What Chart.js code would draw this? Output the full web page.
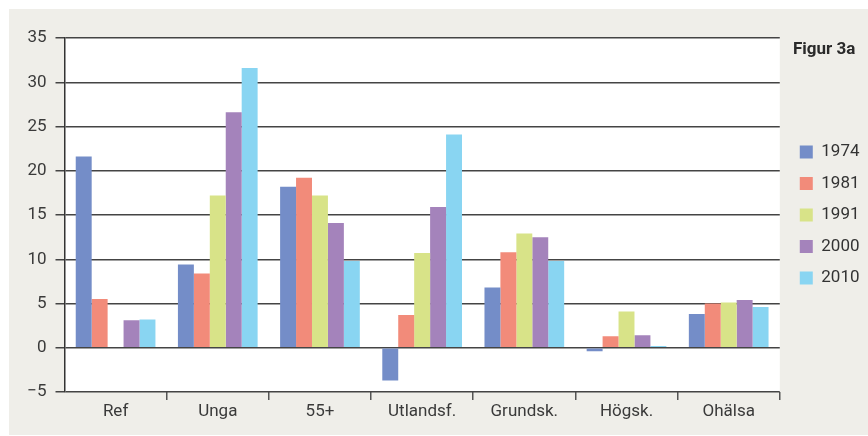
<!DOCTYPE html>
<html lang="sv">
<head>
  <meta charset="UTF-8">
  <title>Figur 3a</title>
  <style>
    body { margin: 0; background: #fff; }
    #wrap { position: absolute; left: 9px; top: 9px; width: 859px; height: 426px; background: #efeee9; }
    #fig { position: absolute; left: 784px; top: 29px; font: bold 17px Roboto, sans-serif; color: #2a2a2a; }
  </style>
</head>
<body>
  <div id="wrap">
    <canvas id="chart" width="859" height="426"></canvas>
    <div id="fig">Figur 3a</div>
  </div>

  <script src="https://cdn.jsdelivr.net/npm/chart.js@4.4.1/dist/chart.umd.min.js"></script>
  <script>
    // kategorier och serier
    const categories = ["Ref", "Unga", "55+", "Utlandsf.", "Grundsk.", "Högsk.", "Ohälsa"];
    const years = ["1974", "1981", "1991", "2000", "2010"];
    const v1974 = [21.6, 9.4, 18.2, -3.7, 6.8, -0.4, 3.8];
    const v1981 = [5.5, 8.4, 19.2, 3.7, 10.8, 1.3, 5.0];
    const v1991 = [null, 17.2, 17.2, 10.7, 12.9, 4.1, 5.1];
    const v2000 = [3.1, 26.6, 14.1, 15.9, 12.5, 1.4, 5.4];
    const v2010 = [3.2, 31.6, 9.8, 24.1, 9.8, 0.2, 4.6];
    const yTicks = [-5, 0, 5, 10, 15, 20, 25, 30, 35];
    const colors = ["#748dc8", "#f28b7a", "#d8e388", "#a483bb", "#89d5f2"];

    const series = [v1974, v1981, v1991, v2000, v2010];
    const font = { family: "Roboto, sans-serif", size: 17 };

    // vit bakgrund bakom själva diagramytan
    const plotBg = {
      id: "plotBg",
      beforeDraw(chart) {
        const { ctx, chartArea: a } = chart;
        ctx.save();
        ctx.fillStyle = "#ffffff";
        ctx.fillRect(a.left, a.top, a.right - a.left, a.bottom - a.top);
        ctx.restore();
      }
    };

    // flytta legenden lite åt höger utan att ändra diagramytan
    const legendNudge = {
      id: "legendNudge",
      afterLayout(chart) {
        chart.legend.left += 5.5;
        chart.legend.right += 5.5;
      }
    };

    new Chart(document.getElementById("chart"), {
      type: "bar",
      data: {
        labels: categories,
        datasets: years.map((y, i) => ({
          label: y,
          data: series[i],
          backgroundColor: colors[i],
          categoryPercentage: 0.78,
          barPercentage: 1
        }))
      },
      options: {
        responsive: false,
        animation: false,
        layout: { padding: { top: 29, right: 4 } },
        plugins: {
          title: { display: false },
          tooltip: { enabled: false },
          legend: {
            position: "right",
            align: "center",
            fullSize: false,
            labels: {
              boxWidth: 13,
              boxHeight: 13,
              padding: 14.5,
              color: "#333",
              font: font
            }
          }
        },
        scales: {
          x: {
            afterFit(axis) { axis.height = 43; },
            grid: {
              offset: true,
              drawOnChartArea: false,
              tickLength: 8,
              lineWidth: 1.5,
              color: ctx => ctx.index === 0 ? "rgba(0,0,0,0)" : "#555"
            },
            border: { display: false },
            ticks: { color: "#3a3a3a", font: font, padding: 2 }
          },
          y: {
            min: -5,
            max: 35,
            afterFit(axis) { axis.width = 55.5; },
            afterBuildTicks(axis) { axis.ticks = yTicks.map(v => ({ value: v })); },
            grid: { color: "#444", lineWidth: 1.5, tickLength: 9 },
            border: { color: "#333", width: 1.5 },
            ticks: {
              color: "#3a3a3a",
              font: font,
              padding: 9,
              callback: v => v < 0 ? "\u2212" + Math.abs(v) : v
            }
          }
        }
      },
      plugins: [plotBg, legendNudge]
    });
  </script>
</body>
</html>
